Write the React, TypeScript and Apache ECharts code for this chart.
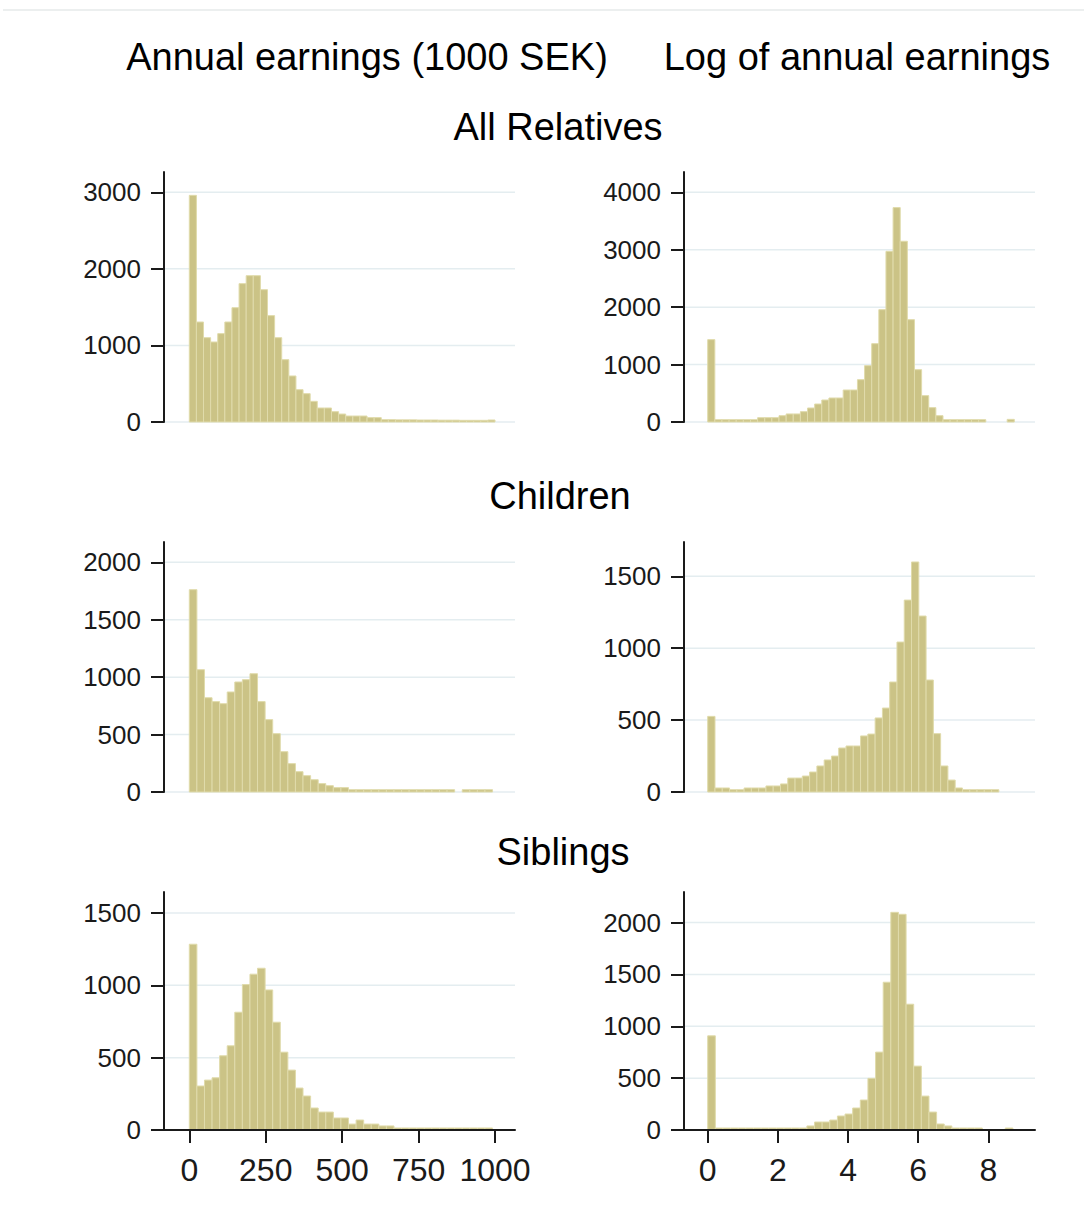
import React, { useEffect, useRef } from "react";
import * as echarts from "echarts";

// ---------- data (histogram counts per bin) ----------
// All relatives, annual earnings (1000 SEK): 43 bins over [0, 1000]
const allEarn = [2960, 1306, 1101, 1045, 1154, 1306, 1493, 1807, 1911, 1911, 1728, 1389, 1101, 814, 601, 422, 370, 270, 183, 183, 135, 104, 78, 78, 78, 57, 57, 30, 30, 28, 28, 28, 26, 26, 26, 24, 24, 24, 22, 22, 22, 22, 26];
const allEarnMax = 1000;
// All relatives, log of annual earnings: 43 bins over [0, 8.74]
const allLog = [1434, 40, 40, 40, 40, 40, 40, 75, 75, 75, 110, 140, 140, 180, 244, 313, 383, 418, 418, 557, 557, 737, 981, 1364, 1956, 2972, 3733, 3147, 1782, 911, 459, 250, 110, 40, 40, 40, 40, 40, 40, 0, 0, 0, 46];
const allLogMax = 8.74;
// Children, annual earnings: 40 bins over [0, 992]
const childEarn = [1762, 1065, 821, 787, 769, 871, 958, 978, 1030, 787, 630, 508, 351, 247, 177, 142, 107, 73, 55, 38, 38, 20, 20, 20, 20, 20, 20, 20, 20, 20, 20, 20, 20, 20, 20, 0, 20, 20, 20, 20];
const childEarnMax = 992;
// Children, log of annual earnings: 40 bins over [0, 8.3]
const childLog = [526, 28, 28, 16, 16, 28, 28, 28, 42, 42, 56, 97, 97, 111, 139, 181, 223, 250, 306, 320, 320, 390, 403, 515, 584, 765, 1043, 1335, 1600, 1224, 779, 406, 181, 83, 28, 16, 16, 16, 16, 16];
const childLogMax = 8.3;
// Siblings, annual earnings: 40 bins over [0, 992]
const sibEarn = [1284, 304, 345, 361, 513, 582, 814, 1005, 1077, 1118, 968, 745, 538, 414, 290, 235, 152, 124, 124, 83, 83, 41, 69, 41, 41, 28, 28, 14, 14, 14, 14, 14, 14, 14, 14, 14, 14, 14, 14, 14];
const sibEarnMax = 992;
// Siblings, log of annual earnings: 40 bins over [0, 8.7]
const sibLog = [908, 19, 19, 19, 19, 19, 19, 19, 19, 19, 19, 19, 19, 39, 77, 77, 96, 135, 154, 212, 289, 498, 751, 1425, 2099, 2080, 1213, 616, 327, 173, 58, 39, 19, 19, 19, 19, 0, 0, 0, 19];
const sibLogMax = 8.7;

// tick values
const earnTicksX = [0, 250, 500, 750, 1000];
const logTicksX = [0, 2, 4, 6, 8];
const allEarnTicksY = [0, 1000, 2000, 3000];
const allLogTicksY = [0, 1000, 2000, 3000, 4000];
const childEarnTicksY = [0, 500, 1000, 1500, 2000];
const childLogTicksY = [0, 500, 1000, 1500];
const sibEarnTicksY = [0, 500, 1000, 1500];
const sibLogTicksY = [0, 500, 1000, 1500, 2000];

// titles
const columnTitles = ["Annual earnings (1000 SEK)", "Log of annual earnings"];
const rowTitles = ["All Relatives", "Children", "Siblings"];

// ---------- styling / layout ----------
const FONT = "'Liberation Sans', Arial, Helvetica, sans-serif";
const BAR_FILL = "#cbc386";
const BAR_EDGE = "#e0dbab";
const GRID_COLOR = "#e4edf0";
const AXIS_COLOR = "#1a1a1a";
const TEXT_COLOR = "#1a1a1a";

const COL_LEFT = [164, 684];
const COL_WIDTH = 351;
const ROW_TOP = [172, 542, 892];
const ROW_HEIGHT = [250, 250, 238];
const X_RANGE = [
  [-82.8, 1065.4],
  [-0.676, 9.33],
];

const panels = [
  { counts: allEarn, binMax: allEarnMax, yMax: 3265, yTicks: allEarnTicksY, row: 0, col: 0 },
  { counts: allLog, binMax: allLogMax, yMax: 4353, yTicks: allLogTicksY, row: 0, col: 1 },
  { counts: childEarn, binMax: childEarnMax, yMax: 2177, yTicks: childEarnTicksY, row: 1, col: 0 },
  { counts: childLog, binMax: childLogMax, yMax: 1739, yTicks: childLogTicksY, row: 1, col: 1 },
  { counts: sibEarn, binMax: sibEarnMax, yMax: 1645, yTicks: sibEarnTicksY, row: 2, col: 0 },
  { counts: sibLog, binMax: sibLogMax, yMax: 2295, yTicks: sibLogTicksY, row: 2, col: 1 },
];

const plain = (v: number) => String(v);

function buildOption() {
  const grid: any[] = [];
  const xAxis: any[] = [];
  const yAxis: any[] = [];
  const series: any[] = [];

  panels.forEach((p, i) => {
    const bottom = p.row === 2;
    grid.push({
      left: COL_LEFT[p.col],
      top: ROW_TOP[p.row],
      width: COL_WIDTH,
      height: ROW_HEIGHT[p.row],
      containLabel: false,
    });
    const xTicks = p.col === 0 ? earnTicksX : logTicksX;
    xAxis.push({
      gridIndex: i,
      type: "value",
      min: X_RANGE[p.col][0],
      max: X_RANGE[p.col][1],
      show: bottom,
      z: 5,
      axisLine: { show: true, onZero: false, lineStyle: { color: AXIS_COLOR, width: 2 } },
      axisTick: { show: true, length: 13, customValues: xTicks, lineStyle: { color: AXIS_COLOR, width: 2 } },
      axisLabel: {
        show: true,
        customValues: xTicks,
        formatter: plain,
        fontSize: 32,
        fontFamily: FONT,
        color: TEXT_COLOR,
        margin: 24,
      },
      splitLine: { show: false },
    });
    yAxis.push({
      gridIndex: i,
      type: "value",
      min: 0,
      max: p.yMax,
      z: 5,
      axisLine: { show: true, onZero: false, lineStyle: { color: AXIS_COLOR, width: 2 } },
      axisTick: { show: true, length: 13, customValues: p.yTicks, lineStyle: { color: AXIS_COLOR, width: 2 } },
      axisLabel: {
        show: true,
        customValues: p.yTicks,
        formatter: plain,
        fontSize: 26,
        fontFamily: FONT,
        color: TEXT_COLOR,
        margin: 23,
      },
      splitLine: { show: false },
    });

    // horizontal grid lines at the y tick values
    series.push({
      type: "custom",
      xAxisIndex: i,
      yAxisIndex: i,
      z: 1,
      silent: true,
      clip: false,
      data: p.yTicks.map((v) => [0, v]),
      encode: { x: 0, y: 1 },
      renderItem: (params: any, api: any) => {
        const cs = params.coordSys;
        const y = api.coord([0, api.value(1)])[1];
        return {
          type: "line",
          shape: { x1: cs.x, y1: y, x2: cs.x + cs.width, y2: y },
          style: { stroke: GRID_COLOR, lineWidth: 1.5 },
        };
      },
    });

    // histogram bars
    const bw = p.binMax / p.counts.length;
    series.push({
      type: "custom",
      xAxisIndex: i,
      yAxisIndex: i,
      z: 2,
      silent: true,
      data: p.counts.map((c, k) => [k * bw, (k + 1) * bw, c]),
      encode: { x: [0, 1], y: 2 },
      renderItem: (params: any, api: any) => {
        const c = api.value(2);
        if (!c) return null;
        const p0 = api.coord([api.value(0), c]);
        const p1 = api.coord([api.value(1), 0]);
        return {
          type: "rect",
          shape: { x: p0[0], y: p0[1], width: p1[0] - p0[0], height: p1[1] - p0[1] },
          style: { fill: BAR_FILL, stroke: BAR_EDGE, lineWidth: 1 },
        };
      },
    });
  });

  const titleStyle = (text: string) => ({
    text,
    fontSize: 38,
    fontFamily: FONT,
    fill: "#000",
    textAlign: "center",
    textVerticalAlign: "middle",
  });

  const graphic: any[] = [
    {
      type: "line",
      shape: { x1: 3, y1: 10, x2: 1084, y2: 10 },
      style: { stroke: "#e6eaea", lineWidth: 1.5 },
    },
    { type: "text", x: 367, y: 57, style: titleStyle(columnTitles[0]) },
    { type: "text", x: 857, y: 57, style: titleStyle(columnTitles[1]) },
    { type: "text", x: 558, y: 127, style: titleStyle(rowTitles[0]) },
    { type: "text", x: 560, y: 496, style: titleStyle(rowTitles[1]) },
    { type: "text", x: 563, y: 852, style: titleStyle(rowTitles[2]) },
  ];

  return {
    animation: false,
    backgroundColor: "#ffffff",
    textStyle: { fontFamily: FONT },
    grid,
    xAxis,
    yAxis,
    series,
    graphic,
  };
}

export default function App() {
  const ref = useRef<HTMLDivElement>(null);
  useEffect(() => {
    if (!ref.current) return;
    const chart = echarts.init(ref.current, undefined, { renderer: "svg" });
    chart.setOption(buildOption() as any);
    return () => {
      chart.dispose();
    };
  }, []);
  return (
    <div
      ref={ref}
      style={{ position: "absolute", left: 0, top: 0, width: 1084, height: 1213, background: "#fff" }}
    />
  );
}
